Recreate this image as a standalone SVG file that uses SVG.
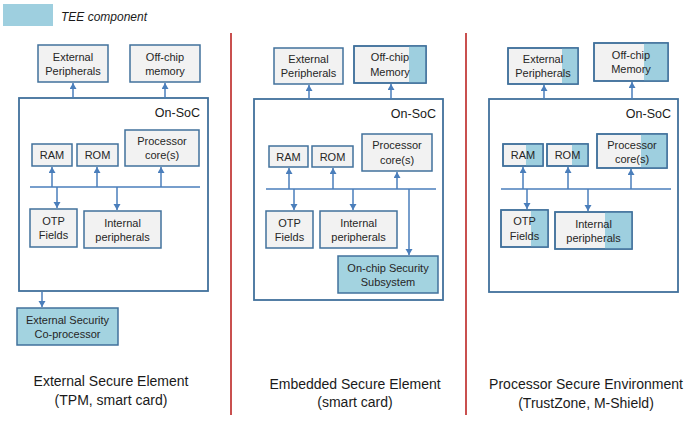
<svg xmlns="http://www.w3.org/2000/svg" width="688" height="421" viewBox="0 0 688 421">
<defs>
<style>
.box{fill:#f2f2f2;stroke:#41719c;stroke-width:1.5}
.teebox{fill:#a3d3e0;stroke:#41719c;stroke-width:1.5}
.frame{fill:none;stroke:#41719c;stroke-width:1.5}
.tee{fill:#9ecfdf}
.soc{fill:#ffffff;stroke:#41719c;stroke-width:1.8}
.t{font-family:"Liberation Sans",Arial,sans-serif;font-size:11px;fill:#262626;text-anchor:middle}
.soct{font-family:"Liberation Sans",Arial,sans-serif;font-size:12.5px;fill:#1a1a1a;text-anchor:end}
.cap{font-family:"Liberation Sans",Arial,sans-serif;font-size:14px;fill:#1a1a1a;text-anchor:middle}
.conn{stroke:#4a7ebb;stroke-width:1.5;fill:none}
.arr{stroke:#4a7ebb;stroke-width:1.5;fill:none;marker-end:url(#ah)}
.div{stroke:#c9504f;stroke-width:2}
</style>
<marker id="ah" markerUnits="userSpaceOnUse" markerWidth="8" markerHeight="8" refX="6" refY="3.5" orient="auto">
<path d="M0,0 L6,3.5 L0,7 z" fill="#4a7ebb"/>
</marker>
</defs>

<g id="legend">
<rect x="3" y="4" width="50" height="22" class="tee"/>
<text x="61" y="21" font-family="Liberation Sans,Arial,sans-serif" font-size="12" font-style="italic" fill="#1a1a1a">TEE component</text>
</g>

<g id="dividers">
<line x1="231" y1="33" x2="231" y2="415" class="div"/>
<line x1="466" y1="33" x2="466" y2="415" class="div"/>
</g>

<!-- Panel 1 -->
<g id="p1-soc"><rect x="19" y="98" width="189" height="193" class="soc"/><text x="200" y="117" class="soct">On-SoC</text></g>
<g id="p1-ext"><rect x="38" y="45" width="70" height="37" class="box"/><text x="73" y="61" class="t">External</text><text x="73" y="75" class="t">Peripherals</text></g>
<g id="p1-mem"><rect x="130" y="45" width="70" height="37" class="box"/><text x="165" y="61" class="t">Off-chip</text><text x="165" y="75" class="t">memory</text></g>
<g id="p1-ram"><rect x="32" y="144" width="40" height="22" class="box"/><text x="52" y="159" class="t">RAM</text></g>
<g id="p1-rom"><rect x="77" y="144" width="41" height="22" class="box"/><text x="97.5" y="159" class="t">ROM</text></g>
<g id="p1-cpu"><rect x="125" y="130" width="74" height="36" class="box"/><text x="162" y="145" class="t">Processor</text><text x="162" y="159" class="t">core(s)</text></g>
<g id="p1-otp"><rect x="30" y="209" width="47" height="38" class="box"/><text x="53.5" y="225" class="t">OTP</text><text x="53.5" y="239" class="t">Fields</text></g>
<g id="p1-int"><rect x="84" y="211" width="77" height="37" class="box"/><text x="122.5" y="227" class="t">Internal</text><text x="122.5" y="241" class="t">peripherals</text></g>
<g id="p1-sec"><rect x="17" y="308" width="101" height="37" class="teebox"/><text x="67.5" y="324" class="t">External Security</text><text x="67.5" y="338" class="t">Co-processor</text></g>

<!-- Panel 2 -->
<g id="p2-soc"><rect x="254" y="99" width="189" height="201" class="soc"/><text x="436" y="118" class="soct">On-SoC</text></g>
<g id="p2-ext"><rect x="274" y="48" width="69" height="36" class="box"/><text x="308.5" y="63" class="t">External</text><text x="308.5" y="77" class="t">Peripherals</text></g>
<g id="p2-mem"><rect x="354" y="46" width="72" height="37" class="box"/><rect x="409" y="46" width="17" height="37" class="tee"/><rect x="354" y="46" width="72" height="37" class="frame"/><text x="390" y="61" class="t">Off-chip</text><text x="390" y="76" class="t">Memory</text></g>
<g id="p2-ram"><rect x="269" y="146" width="39" height="21" class="box"/><text x="288.5" y="161" class="t">RAM</text></g>
<g id="p2-rom"><rect x="312" y="146" width="41" height="21" class="box"/><text x="332.5" y="161" class="t">ROM</text></g>
<g id="p2-cpu"><rect x="362" y="134" width="70" height="37" class="box"/><text x="397" y="149" class="t">Processor</text><text x="397" y="164" class="t">core(s)</text></g>
<g id="p2-otp"><rect x="266" y="211" width="47" height="37" class="box"/><text x="289.5" y="227" class="t">OTP</text><text x="289.5" y="241" class="t">Fields</text></g>
<g id="p2-int"><rect x="320" y="211" width="77" height="37" class="box"/><text x="358.5" y="227" class="t">Internal</text><text x="358.5" y="241" class="t">peripherals</text></g>
<g id="p2-sec"><rect x="338" y="256" width="100" height="37" class="teebox"/><text x="388" y="272" class="t">On-chip Security</text><text x="388" y="286" class="t">Subsystem</text></g>

<!-- Panel 3 -->
<g id="p3-soc"><rect x="489" y="99" width="189" height="193" class="soc"/><text x="671" y="118" class="soct">On-SoC</text></g>
<g id="p3-ext"><rect x="508" y="48" width="70" height="36" class="box"/><rect x="562" y="48" width="16" height="36" class="tee"/><rect x="508" y="48" width="70" height="36" class="frame"/><text x="543" y="63" class="t">External</text><text x="543" y="77" class="t">Peripherals</text></g>
<g id="p3-mem"><rect x="594" y="43" width="74" height="38" class="box"/><rect x="644" y="43" width="24" height="38" class="tee"/><rect x="594" y="43" width="74" height="38" class="frame"/><text x="631" y="59" class="t">Off-chip</text><text x="631" y="73" class="t">Memory</text></g>
<g id="p3-ram"><rect x="503" y="144" width="40" height="22" class="box"/><rect x="526" y="144" width="17" height="22" class="tee"/><rect x="503" y="144" width="40" height="22" class="frame"/><text x="523" y="159" class="t">RAM</text></g>
<g id="p3-rom"><rect x="547" y="144" width="41" height="22" class="box"/><rect x="572" y="144" width="16" height="22" class="tee"/><rect x="547" y="144" width="41" height="22" class="frame"/><text x="567.5" y="159" class="t">ROM</text></g>
<g id="p3-cpu"><rect x="597" y="134" width="70" height="34" class="box"/><rect x="641" y="134" width="26" height="34" class="tee"/><rect x="597" y="134" width="70" height="34" class="frame"/><text x="632" y="149" class="t">Processor</text><text x="632" y="163" class="t">core(s)</text></g>
<g id="p3-otp"><rect x="501" y="210" width="47" height="37" class="box"/><rect x="531" y="210" width="17" height="37" class="tee"/><rect x="501" y="210" width="47" height="37" class="frame"/><text x="524.5" y="225" class="t">OTP</text><text x="524.5" y="240" class="t">Fields</text></g>
<g id="p3-int"><rect x="555" y="212" width="77" height="37" class="box"/><rect x="605" y="212" width="27" height="37" class="tee"/><rect x="555" y="212" width="77" height="37" class="frame"/><text x="593.5" y="228" class="t">Internal</text><text x="593.5" y="242" class="t">peripherals</text></g>

<g id="connectors">
<!-- panel 1 -->
<line x1="73" y1="98" x2="73" y2="83" class="arr"/>
<line x1="165" y1="98" x2="165" y2="83" class="arr"/>
<line x1="30" y1="187" x2="200" y2="187" class="conn"/>
<line x1="52" y1="187" x2="52" y2="167" class="arr"/>
<line x1="97" y1="187" x2="97" y2="167" class="arr"/>
<line x1="161" y1="187" x2="161" y2="167" class="arr"/>
<line x1="57" y1="187" x2="57" y2="208" class="arr"/>
<line x1="117" y1="187" x2="117" y2="210" class="arr"/>
<line x1="42" y1="292" x2="42" y2="307" class="arr"/>
<!-- panel 2 -->
<line x1="309" y1="99" x2="309" y2="85" class="arr"/>
<line x1="391" y1="99" x2="391" y2="84" class="arr"/>
<line x1="266" y1="189" x2="436" y2="189" class="conn"/>
<line x1="289" y1="189" x2="289" y2="168" class="arr"/>
<line x1="333" y1="189" x2="333" y2="168" class="arr"/>
<line x1="397" y1="189" x2="397" y2="172" class="arr"/>
<line x1="294" y1="189" x2="294" y2="210" class="arr"/>
<line x1="353" y1="189" x2="353" y2="210" class="arr"/>
<line x1="409" y1="189" x2="409" y2="255" class="arr"/>
<!-- panel 3 -->
<line x1="544" y1="99" x2="544" y2="85" class="arr"/>
<line x1="632" y1="99" x2="632" y2="82" class="arr"/>
<line x1="501" y1="189" x2="671" y2="189" class="conn"/>
<line x1="523" y1="189" x2="523" y2="167" class="arr"/>
<line x1="568" y1="189" x2="568" y2="167" class="arr"/>
<line x1="631" y1="189" x2="631" y2="169" class="arr"/>
<line x1="527" y1="189" x2="527" y2="209" class="arr"/>
<line x1="588" y1="189" x2="588" y2="211" class="arr"/>
</g>

<g id="captions">
<text x="111" y="386" class="cap">External Secure Element</text>
<text x="111" y="405" class="cap">(TPM, smart card)</text>
<text x="355" y="389" class="cap">Embedded Secure Element</text>
<text x="355" y="407" class="cap">(smart card)</text>
<text x="586" y="389" class="cap">Processor Secure Environment</text>
<text x="586" y="408" class="cap">(TrustZone, M-Shield)</text>
</g>
</svg>
